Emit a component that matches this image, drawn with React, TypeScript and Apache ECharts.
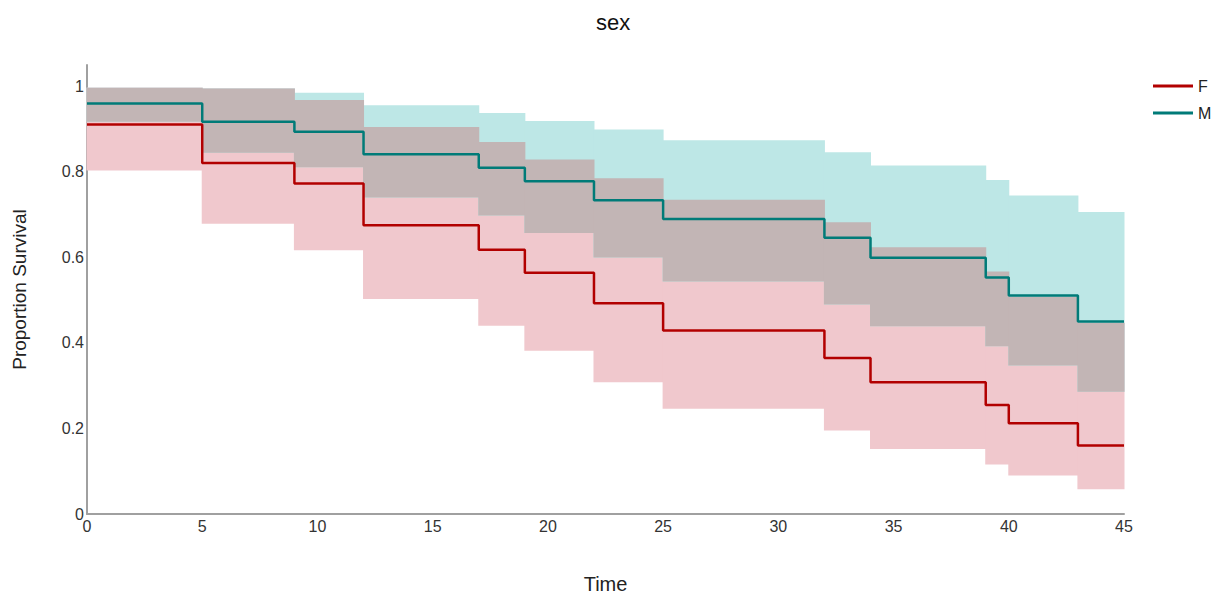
import React, { useEffect, useRef } from "react";
import * as echarts from "echarts";

// Step change times (last entry closes the final step)
const times = [0, 5, 9, 12, 17, 19, 22, 25, 32, 34, 39, 40, 43, 45];

// Female
const fSurv = [0.911, 0.821, 0.773, 0.675, 0.618, 0.564, 0.493, 0.429, 0.365, 0.308, 0.255, 0.212, 0.160];
const fUpper = [0.997, 0.995, 0.968, 0.905, 0.870, 0.829, 0.785, 0.735, 0.682, 0.624, 0.567, 0.508, 0.447];
const fLower = [0.803, 0.679, 0.617, 0.503, 0.440, 0.382, 0.308, 0.246, 0.195, 0.152, 0.116, 0.090, 0.058];

// Male
const mSurv = [0.960, 0.917, 0.894, 0.841, 0.810, 0.778, 0.734, 0.690, 0.646, 0.599, 0.553, 0.511, 0.450];
const mUpper = [0.997, 0.995, 0.985, 0.956, 0.938, 0.919, 0.899, 0.874, 0.846, 0.815, 0.781, 0.745, 0.706];
const mLower = [0.917, 0.845, 0.811, 0.740, 0.698, 0.657, 0.600, 0.544, 0.490, 0.439, 0.392, 0.347, 0.286];

const groups = ["F", "M"];
const yTicks = [0, 0.2, 0.4, 0.6, 0.8, 1];

const FONT = "'Liberation Sans', Arial, sans-serif";

function stepData(vals: number[]) {
  const pts = vals.map((v, i) => [times[i], v]);
  pts.push([times[times.length - 1], vals[vals.length - 1]]);
  return pts;
}

function bandSeries(id: string, lower: number[], upper: number[], color: string) {
  const data = lower
    .map((lo, i) => [times[i], times[i + 1], lo, upper[i]])
    .filter((d) => d[3] > d[2]);
  return {
    name: id,
    type: "custom",
    silent: true,
    encode: { x: [0, 1], y: [2, 3] },
    renderItem: (params: any, api: any) => {
      const p0 = api.coord([api.value(0), api.value(3)]);
      const p1 = api.coord([api.value(1), api.value(2)]);
      return {
        type: "rect",
        shape: { x: p0[0] - 0.5, y: p0[1], width: p1[0] - p0[0] + 1, height: p1[1] - p0[1] },
        style: { fill: color },
      };
    },
    data,
  };
}

export default function App() {
  const ref = useRef<HTMLDivElement>(null);
  useEffect(() => {
    document.body.style.margin = "0";
    const chart = echarts.init(ref.current!, undefined, { renderer: "svg" });
    const ovLower = fLower.map((v, i) => Math.max(v, mLower[i]));
    const ovUpper = fUpper.map((v, i) => Math.min(v, mUpper[i]));
    chart.setOption({
      animation: false,
      title: {
        text: "sex",
        left: 591,
        top: 6,
        textStyle: { fontFamily: FONT, fontSize: 22, fontWeight: "normal", color: "#111" },
      },
      legend: {
        data: groups,
        orient: "vertical",
        left: 1148,
        top: 73,
        icon: "rect",
        itemWidth: 40,
        itemHeight: 3,
        itemGap: 11,
        textStyle: { fontFamily: FONT, fontSize: 16, color: "#222" },
      },
      grid: { left: 87, top: 65, width: 1037, height: 449, outerBoundsMode: "none", containLabel: false },
      xAxis: {
        type: "value",
        min: 0,
        max: 45,
        interval: 5,
        name: "Time",
        nameLocation: "middle",
        nameGap: 60,
        nameTextStyle: { fontFamily: FONT, fontSize: 20, color: "#222" },
        axisLine: { show: true, lineStyle: { color: "#a0a0a0", width: 2 } },
        axisTick: { show: false },
        splitLine: { show: false },
        axisLabel: { fontFamily: FONT, fontSize: 16, color: "#333", margin: 4 },
      },
      yAxis: {
        type: "value",
        min: 0,
        max: 1.05,
        interval: 0.2,
        name: "Proportion Survival",
        nameLocation: "middle",
        nameGap: 58,
        nameTextStyle: { fontFamily: FONT, fontSize: 19, color: "#222" },
        axisLine: { show: true, lineStyle: { color: "#a0a0a0", width: 2 } },
        axisTick: { show: false },
        splitLine: { show: false },
        axisLabel: {
          fontFamily: FONT,
          fontSize: 16,
          color: "#333",
          margin: 3,
          formatter: (v: number) => {
            const t = yTicks.find((k) => Math.abs(k - v) < 1e-6);
            return t === undefined ? "" : String(t);
          },
        },
      },
      series: [
        bandSeries("fb", fLower, fUpper, "#f0c8cd"),
        bandSeries("mb", mLower, mUpper, "#bde7e6"),
        bandSeries("ob", ovLower, ovUpper, "#c2b5b5"),
        {
          name: "F",
          type: "line",
          step: "end",
          symbol: "none",
          color: "#b20000",
          lineStyle: { color: "#b20000", width: 2.5 },
          data: stepData(fSurv),
        },
        {
          name: "M",
          type: "line",
          step: "end",
          symbol: "none",
          color: "#007b78",
          lineStyle: { color: "#007b78", width: 2.5 },
          data: stepData(mSurv),
        },
      ],
    });
    return () => chart.dispose();
  }, []);
  return (
    <div
      ref={ref}
      style={{ position: "fixed", left: 0, top: 0, width: 1215, height: 595, background: "#fff" }}
    />
  );
}
